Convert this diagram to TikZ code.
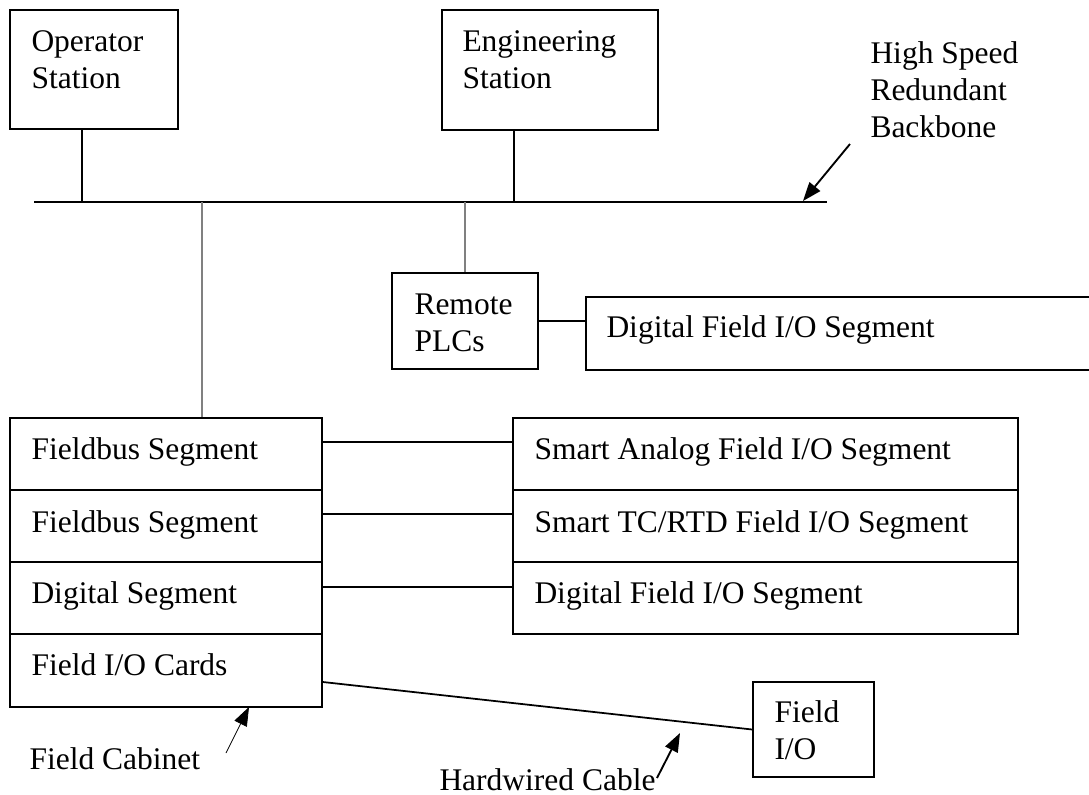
\documentclass[tikz,border=0pt]{standalone}
\usepackage{fontspec}
\setmainfont{Liberation Serif}
\usetikzlibrary{arrows.meta,fit,calc}
\begin{document}
\begin{tikzpicture}[x=0.4pt,y=-0.4pt,
  box/.style={draw, line width=0.7pt, inner sep=0pt},
  lbl/.style={anchor=base west, inner sep=0pt, align=left, font=\fontsize{12.6}{14.7}\selectfont},
  wire/.style={line width=0.7pt},
  gwire/.style={line width=0.45pt, draw=gray},
  arr/.style={-{Triangle[length=7.5pt,width=5.5pt]}, line width=0.75pt},
  tarr/.style={-{Triangle[length=7.5pt,width=5.5pt]}, line width=0.3pt}
]
\useasboundingbox (0,0) rectangle (1089,795);

% top stations (multi-line labels: base = last line)
\node[box, fit={(10,10)(178,129)}] (op) {};
\node[lbl] (opt) at (31,88) {Operator\\Station};
\node[box, fit={(442,10)(658,130)}] (eng) {};
\node[lbl] (engt) at (462,88) {Engineering\\Station};
\node[lbl] (hsr) at (870,137) {High Speed\\Redundant\\Backbone};

% backbone
\coordinate (busL) at (34,202);
\coordinate (busR) at (827,202);
\draw[wire] (busL) -- (busR);
\coordinate (opj) at (82,202);
\coordinate (engj) at (514,202);
\draw[wire] (op.south -| opj) -- (opj);
\draw[wire] (eng.south -| engj) -- (engj);
\coordinate (bbs) at (850,144);
\coordinate (bbt) at (803,201);
\draw[arr] (bbs) -- (bbt);

% remote PLCs
\node[box, fit={(392,273)(538,369)}] (plc) {};
\node[lbl] (plct) at (414,351) {Remote\\PLCs};
\node[box, fit={(586,297)(1100,370)}] (dfio) {};
\node[lbl] (dfiot) at (606,337) {Digital Field I/O Segment};
\coordinate (plcj) at (465,202);
\draw[gwire] (plcj) -- (plc.north);
\draw[wire] (plc.east) -- (dfio.west |- plc.east);

% field cabinet stack
\node[box, fit={(10,418)(322,490)}] (fb1) {};
\node[box, fit={(10,490)(322,562)}] (fb2) {};
\node[box, fit={(10,562)(322,634)}] (dseg) {};
\node[box, fit={(10,634)(322,707)}] (cards) {};
\node[lbl] (fb1t) at (31,459) {Fieldbus Segment};
\node[lbl] (fb2t) at (31,532) {Fieldbus Segment};
\node[lbl] (dsegt) at (31,603) {Digital Segment};
\node[lbl] (cardst) at (31,675) {Field I/O Cards};
\coordinate (fbj) at (202,202);
\draw[gwire] (fbj) -- (fbj |- fb1.north);

% right stack
\node[box, fit={(513,418)(1018,490)}] (sa) {};
\node[box, fit={(513,490)(1018,562)}] (tc) {};
\node[box, fit={(513,562)(1018,634)}] (df) {};
\node[lbl] (sat) at (534,459) {Smart Analog Field I/O Segment};
\node[lbl] (tct) at (534,532) {Smart TC/RTD Field I/O Segment};
\node[lbl] (dft) at (534,603) {Digital Field I/O Segment};
\draw[wire] ($(fb1.east)+(0,-12)$) -- ($(sa.west)+(0,-12)$);
\draw[wire] ($(fb2.east)+(0,-12)$) -- ($(tc.west)+(0,-12)$);
\draw[wire] ($(dseg.east)+(0,-11)$) -- ($(df.west)+(0,-11)$);

% field I/O
\node[box, fit={(753,682)(874,777)}] (fio) {};
\node[lbl] (fiot) at (774,759) {Field\\I/O};
\draw[wire] ($(cards.east)+(0,11.5)$) -- (fio.west);

% annotations
\node[lbl] (fct) at (29,769) {Field Cabinet};
\coordinate (fcs) at (226,753);
\coordinate (fce) at (249,707);
\draw[tarr] (fcs) -- (fce);
\node[lbl] (hwt) at (439,790) {Hardwired Cable};
\coordinate (hws) at (657,778);
\coordinate (hwe) at (680,733);
\draw[arr] (hws) -- (hwe);
\end{tikzpicture}
\end{document}
